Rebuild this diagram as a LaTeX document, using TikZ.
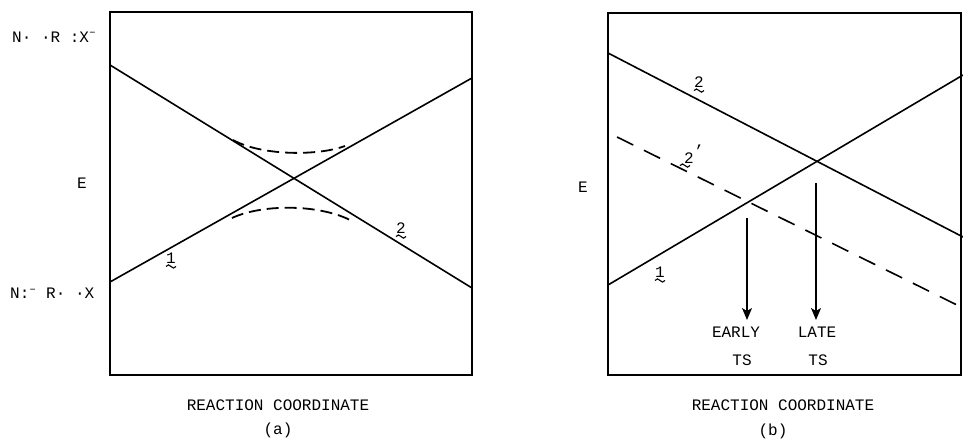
\documentclass[tikz,border=0pt]{standalone}
\usepackage{fontspec}
\setmainfont{Liberation Mono}
\usetikzlibrary{arrows.meta}
\newcommand{\tildeunder}[1]{%
  \draw[tilde] ([xshift=-5pt,yshift=-3pt]#1.south) sin ++(2.5,-1.6) cos ++(2.5,1.6) sin ++(2.5,1.6) cos ++(2.5,-1.6);}

\begin{document}
\begin{tikzpicture}[
    x=1pt, y=-1pt,
    font=\fontsize{16}{19}\selectfont,
    lbl/.style={inner sep=0pt},
    frame/.style={line width=2.2pt},
    curve/.style={line width=1.6pt},
    tilde/.style={line width=1.1pt},
    dashcurve/.style={line width=1.8pt, dash pattern=on 12pt off 6pt},
    dashline/.style={line width=1.6pt, dash pattern=on 18pt off 12pt},
    arr/.style={-{Stealth[length=12pt, width=10pt, inset=3pt]}, line width=1.4pt},
]
\useasboundingbox (0,0) rectangle (963,441);

% (a) avoided crossing
\draw[frame] (110,12) rectangle (472,375);
\draw[curve] (110,65) -- (472,288);
\draw[curve] (110,282) -- (472,78);
\draw[dashcurve] (233,140) .. controls (262,156) and (318,156) .. (345,146);
\draw[dashcurve] (232,218) .. controls (262,204) and (318,204) .. (350,220);

\node[lbl, anchor=west] (topstate) at (12,37) {N·  ·R :X\textsuperscript{--}};
\node[lbl, anchor=west] (botstate) at (10,293) {N:\textsuperscript{--} R·  ·X};
\node[lbl] (ea) at (82,183) {E};
\node[lbl] (onea) at (171,258) {1};
\node[lbl] (twoa) at (401,228) {2};
\tildeunder{onea}
\tildeunder{twoa}
\node[lbl] (rca) at (278,405) {REACTION COORDINATE};
\node[lbl] (capa) at (278,430) {(a)};

% (b) early / late TS
\draw[frame] (608,13) rectangle (961,375);
\draw[curve] (608,53) -- (963,237);
\draw[curve] (608,285) -- (963,75);
\draw[dashline] (617,137) -- (957,305);

\node[lbl] (eb) at (583,187) {E};
\node[lbl] (twob) at (699,82) {2};
\node[lbl] (twopb) at (689,158) {2};
\node[lbl, anchor=south west] (primeb) at ([yshift=-4pt]twopb.north east) {'};
\node[lbl] (oneb) at (660,272) {1};
\tildeunder{twob}
\tildeunder{oneb}
\draw[tilde] ([xshift=-9pt,yshift=-2pt]twopb.south) sin ++(2.5,-1.6) cos ++(2.5,1.6) sin ++(2.5,1.6) cos ++(2.5,-1.6);

\coordinate (earlytop) at (747,218);
\coordinate (earlytip) at (747,320);
\coordinate (latetop)  at (816,183);
\coordinate (latetip)  at (816,320);
\draw[arr] (earlytop) -- (earlytip);
\draw[arr] (latetop) -- (latetip);

\node[lbl] (early) at (736,332) {EARLY};
\node[lbl] (late)  at (817,332) {LATE};
\node[lbl] (tsa)   at (742,360) {TS};
\node[lbl] (tsb)   at (818,360) {TS};
\node[lbl] (rcb) at (783,405) {REACTION COORDINATE};
\node[lbl] (capb) at (773,431) {(b)};
\end{tikzpicture}
\end{document}
